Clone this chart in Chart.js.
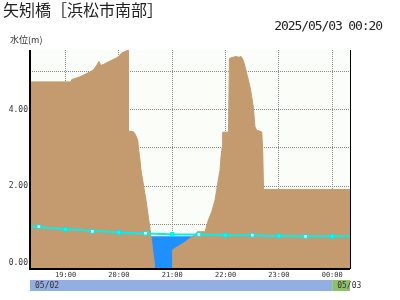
<!DOCTYPE html>
<html><head><meta charset="utf-8">
<script src="https://cdn.jsdelivr.net/npm/chart.js@4"></script>
<style>
html,body{margin:0;padding:0;background:#fff;}
#wrap{position:relative;width:400px;height:300px;overflow:hidden;}
canvas{position:absolute;left:0;top:0;}
#title{position:absolute;left:3px;top:-2px;font:16px "Noto Sans CJK JP";color:#222;white-space:nowrap;line-height:22px;}
#date{position:absolute;right:18px;top:17px;font:13px "DejaVu Sans Mono";letter-spacing:-1.1px;color:#222;white-space:nowrap;line-height:18px;}
#unit{position:absolute;left:10px;top:34px;font:9px "Noto Sans CJK JP";color:#333;white-space:nowrap;line-height:12px;}
</style></head>
<body><div id="wrap"><canvas id="c" width="400" height="300"></canvas>
<div id="title">矢矧橋［浜松市南部］</div>
<div id="date">2025/05/03 00:20</div>
<div id="unit">水位(m)</div></div>
<script>
// ---- data ----
const levelTimes = ['18:20','18:30','18:40','18:50','19:00','19:10','19:20','19:30','19:40','19:50',
  '20:00','20:10','20:20','20:30','20:40','20:50','21:00','21:10','21:20','21:30',
  '21:40','21:50','22:00','22:10','22:20','22:30','22:40','22:50','23:00','23:10',
  '23:20','23:30','23:40','23:50','00:00','00:10','00:20'];
const levelValues = [0.96,0.95,0.92,0.91,0.88,0.88,0.86,0.83,0.83,0.81,
  0.80,0.79,0.78,0.78,0.77,0.76,0.75,0.75,0.75,0.75,
  0.74,0.74,0.73,0.73,0.73,0.73,0.72,0.71,0.71,0.71,
  0.70,0.70,0.70,0.70,0.70,0.70,0.70];
const markerTimes = ['18:30','19:00','19:30','20:00','20:30','21:00','21:30','22:00','22:30','23:00','23:30','00:00'];
const markerFilled = [false,true,false,true,false,true,false,true,false,true,false,true];

// cross-section profile (in minutes after 18:00 along the time axis) and bed height (m)
const profileMinutes = [20,66,67,76,84,91,95,97.6,99.5,102.5,108,113.7,119.3,123.2,126.9,129.7,130.4,130.6,136,137,
  139.3,141.2,142.3,143.75,144.9,146.8,148.6,150.5,156.1,160.6,162,180.3,180.5,194.4,207.5,208,216.9,220.6,224.4,228.1,
  230,231.8,233.75,234.9,236.3,236.8,243.3,244.4,248.4,251.75,255.1,257.4,260,263.8,267.5,269.4,271.2,273.1,275,280.7,
  281.8,282.7,380];
const profileLevels = [4.72,4.72,4.78,4.85,4.94,5.02,5.15,5.25,5.15,5.17,5.24,5.30,5.37,5.47,5.51,5.54,5.54,3.44,3.42,3.41,
  3.31,3.20,2.94,2.68,2.42,2.16,1.90,1.64,0.71,-0.15,-0.6,-0.6,0.35,0.55,0.78,0.82,0.82,1.12,1.34,1.64,
  1.90,2.16,2.42,2.77,3.03,3.41,3.41,5.33,5.36,5.38,5.36,5.38,5.28,4.94,4.59,4.33,4.07,3.55,3.46,3.42,
  2.94,1.92,1.92];
const waterMinutes = [150, 212];
const currentLevel = 0.70;

const xTickTimes = ['19:00','20:00','21:00','22:00','23:00','00:00'];
const yTicks = [0,1,2,3,4,5];
const yTickLabels = ['0.00','','2.00','','4.00',''];
const dayLabels = ['05/02','05/03'];
const dayStartTimes = ['18:20','00:00'];
const xStart = '18:20', xEnd = '00:20';
const yMin = -0.15, yMax = 5.55;

// ---- helpers ----
function toMin(t){ const [h,m]=t.split(':').map(Number); return (h<12? h+24 : h)*60 + m - 18*60; }
function fmt(v){ const tot=v+18*60; const h=Math.floor(tot/60)%24, m=tot%60; return String(h).padStart(2,'0')+':'+String(m).padStart(2,'0'); }

const levelData = levelTimes.map((t,i)=>({x:toMin(t), y:levelValues[i]}));
const markerSet = {}; markerTimes.forEach((t,i)=>markerSet[toMin(t)] = markerFilled[i]);
const ptRadius = levelData.map(p => (p.x in markerSet) ? 2.6 : 0);
const ptBg = levelData.map(p => markerSet[p.x] ? '#00ffff' : '#e8ffff');
const profileData = profileMinutes.map((m,i)=>({x:m, y:profileLevels[i]}));
const waterData = waterMinutes.map(m=>({x:m, y:currentLevel}));

const decor = {
  id:'decor',
  beforeDraw(chart){
    const {ctx, chartArea:a} = chart;
    ctx.save(); ctx.fillStyle='#fbfdf8'; ctx.fillRect(a.left,a.top,a.right-a.left,a.bottom-a.top); ctx.restore();
  },
  afterDraw(chart){
    const {ctx, chartArea:a, scales:{x}} = chart;
    ctx.save();
    ctx.strokeStyle='#000';
    ctx.lineWidth=2; ctx.beginPath();
    ctx.moveTo(a.left, a.top); ctx.lineTo(a.left, a.bottom); ctx.lineTo(a.right, a.bottom); ctx.stroke();
    ctx.lineWidth=1; ctx.beginPath(); ctx.moveTo(a.right+0.5, a.top); ctx.lineTo(a.right+0.5, a.bottom); ctx.stroke();
    // date bar
    const top = a.bottom + 11, h = 11;
    const colors = ['#93aee0','#8fc06c'];
    dayStartTimes.forEach((t,i)=>{
      const x0 = x.getPixelForValue(toMin(t));
      const x1 = i+1 < dayStartTimes.length ? x.getPixelForValue(toMin(dayStartTimes[i+1])) : a.right;
      ctx.fillStyle = colors[i]; ctx.fillRect(x0, top, x1-x0, h);
    });
    ctx.font = '8px "DejaVu Sans Mono"'; ctx.fillStyle='#333'; ctx.textBaseline='middle'; ctx.textAlign='left';
    dayStartTimes.forEach((t,i)=>{
      const x0 = x.getPixelForValue(toMin(t));
      ctx.fillText(dayLabels[i], x0+5, top + h/2 + 0.5);
    });
    ctx.restore();
  }
};

new Chart(document.getElementById('c'), {
  type:'line',
  data:{ datasets:[
    { data: levelData, borderColor:'#00f0f0', borderWidth:2, pointStyle:'rect', pointRadius: ptRadius,
      pointBackgroundColor: ptBg, pointBorderColor:'#00e8e8', pointBorderWidth:1, fill:false, tension:0 },
    { data: profileData, borderColor:'#c49b6e', borderWidth:1, backgroundColor:'#c49b6e', fill:'start', pointRadius:0, tension:0 },
    { data: waterData, borderWidth:0, backgroundColor:'#1e90ff', fill:'start', pointRadius:0, tension:0 }
  ]},
  options:{
    responsive:false, animation:false, devicePixelRatio:1,
    layout:{ padding:{ top:50, right:50, left:0, bottom:0 } },
    plugins:{ legend:{display:false}, tooltip:{enabled:false} },
    scales:{
      x:{ type:'linear', min: toMin(xStart), max: toMin(xEnd), z:1,
        afterBuildTicks(s){ s.ticks = xTickTimes.map(t=>({value: toMin(t)})); },
        afterFit(s){ s.height = 31; },
        grid:{ color:'#8a8a8a', lineWidth:1, drawTicks:false },
        border:{ display:false, dash:[1,1] },
        ticks:{ autoSkip:false, maxRotation:0, padding:2, color:'#333', font:{family:'DejaVu Sans Mono', size:7},
          callback:(v)=>fmt(v) } },
      y:{ min:yMin, max:yMax, z:1,
        afterBuildTicks(s){ s.ticks = yTicks.map(v=>({value:v})); },
        afterFit(s){ s.width = 30; },
        grid:{ color:'#8a8a8a', lineWidth:1, drawTicks:false },
        border:{ display:false, dash:[1,1] },
        ticks:{ padding:2, color:'#333', font:{family:'DejaVu Sans Mono', size:8},
          callback:(v)=>{ const i=yTicks.indexOf(v); return i>=0 ? yTickLabels[i] : ''; } } }
    }
  },
  plugins:[decor]
});
</script>
</body></html>
